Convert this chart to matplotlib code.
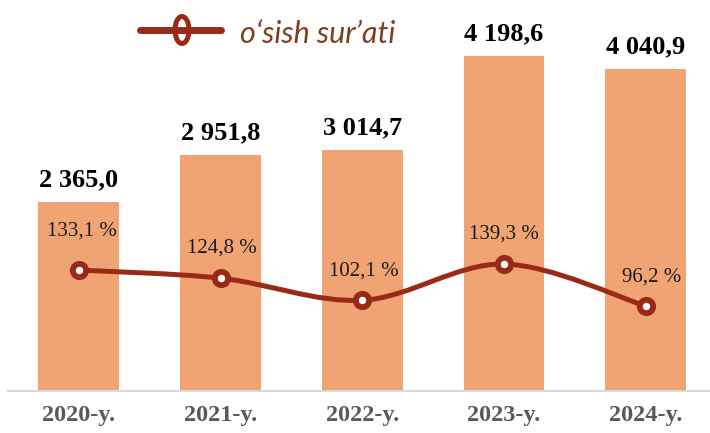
import numpy as np
import matplotlib
matplotlib.use('Agg')
import matplotlib.pyplot as plt
from matplotlib.path import Path
from matplotlib.patches import PathPatch, Ellipse
from matplotlib.lines import Line2D

years = ['2020-y.', '2021-y.', '2022-y.', '2023-y.', '2024-y.']
volume = [2365.0, 2951.8, 3014.7, 4198.6, 4040.9]
growth = [133.1, 124.8, 102.1, 139.3, 96.2]

bar_col = '#F1A473'
red = '#9A2A18'
serif = 'Liberation Serif'

W, H = 710, 433
fig = plt.figure(figsize=(W / 100, H / 100), dpi=100)

# axes spans past the right edge like the original
ax = fig.add_axes([8 / W, 42 / H, 5 * 141.7 / W, 383 / H])
x = np.arange(len(years))
ax.bar(x, volume, width=0.57, color=bar_col, zorder=2)
ax.set_xlim(-0.5, 4.5)
ax.set_ylim(0, 4800)

def fmt_num(v):
    return f'{v:,.1f}'.replace(',', ' ').replace('.', ',')

for xi, v in zip(x, volume):
    ax.annotate(fmt_num(v), (xi, v), xytext=(0, 16), textcoords='offset points',
                ha='center', va='center', fontsize=19, fontweight='bold',
                family=serif, color='black')

ax.set_xticks(x)
ax.set_xticklabels(years, fontsize=17.5, fontweight='bold', family=serif, color='#595959')
ax.tick_params(axis='x', length=0, pad=10)
ax.set_yticks([])
for s in ['top', 'left', 'right']:
    ax.spines[s].set_visible(False)
ax.spines['bottom'].set_color('#D9D9D9')
ax.spines['bottom'].set_linewidth(1.5)

# growth rate on a second axis, smoothed like Excel
ax2 = ax.twinx()
ax2.set_ylim(9, 402)
ax2.axis('off')
pts = np.column_stack([x, growth]).astype(float)
ext = np.vstack([pts[0], pts, pts[-1]])
verts = [pts[0]]
codes = [Path.MOVETO]
for i in range(len(pts) - 1):
    p0, p1, p2, p3 = ext[i], ext[i + 1], ext[i + 2], ext[i + 3]
    verts += [p1 + (p2 - p0) / 6, p2 - (p3 - p1) / 6, p2]
    codes += [Path.CURVE4] * 3
ax2.add_patch(PathPatch(Path(verts, codes), fill=False, edgecolor=red, lw=3.6,
                        capstyle='round', joinstyle='round', zorder=3))
ax2.plot(x, growth, 'o', ms=9.6, mfc='white', mec=red, mew=4.2, zorder=4)

offs = [28, 21.5, 21, 21.5, 21]
dx = [2, 1, 1, 0, 4]
for xi, v, o, d in zip(x, growth, offs, dx):
    ax2.annotate(f'{v:.1f} %'.replace('.', ','), (xi, v), xytext=(d, o),
                 textcoords='offset points', ha='center', va='center',
                 fontsize=15, family=serif, color='#1a1a1a')

# legend drawn by hand (Excel squashes the marker)
ly = 1 - 30 / H
fig.add_artist(Line2D([140 / W, 221 / W], [ly, ly], transform=fig.transFigure,
                      lw=5, color=red, solid_capstyle='round'))
fig.add_artist(Ellipse((182 / W, ly), 14 / W, 27 / H, transform=fig.transFigure,
                       facecolor='white', edgecolor=red, lw=3.6))
fig.text(240 / W, 1 - 43 / H, 'o‘sish sur’ati', fontsize=22, style='italic',
         family='Lato', color='#7E3F1F', va='baseline')

fig.savefig('out.png', dpi=100)
